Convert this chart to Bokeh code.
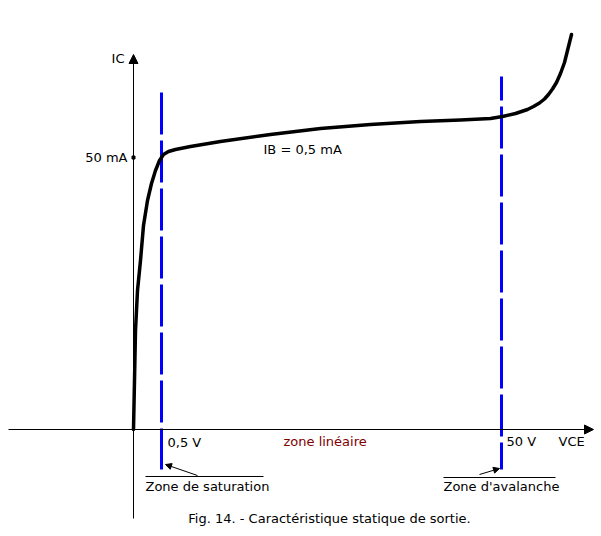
from bokeh.plotting import figure
from bokeh.models import Range1d, Arrow, NormalHead, Label
from bokeh.embed import file_html
from bokeh.resources import INLINE

# Characteristic curve IC(VCE) for IB = 0,5 mA (schematic units: x right of the IC axis, y above the VCE axis)
vce = [0, 1, 2, 4, 7, 10, 14, 18, 22, 26, 30, 35, 42, 57, 87, 137, 187, 237, 287, 327, 357, 369, 382,
       394, 400, 406, 411, 415, 419, 423, 427, 431, 434, 438]
ic = [0, 49, 99, 139, 169, 204, 229, 246, 259, 269, 275, 278, 280, 283, 288, 295, 301, 305, 308, 309.5, 311, 313, 316,
      320, 323, 326.5, 330.5, 335, 340.5, 347, 356, 367, 379, 395]

# Reference levels
ic_tick = 272          # 50 mA
vce_sat = 28           # 0,5 V
vce_aval = 368         # 50 V

FONT = "DejaVu Sans"
FS = "13px"

p = figure(width=601, height=536, output_backend="svg", toolbar_location=None,
           x_range=Range1d(-133, 468), y_range=Range1d(-107, 429),
           x_axis_type=None, y_axis_type=None, min_border=0,
           background_fill_color="white", border_fill_color="white")
p.grid.visible = False
p.outline_line_color = None

# Axes
p.add_layout(Arrow(end=NormalHead(size=9, fill_color="black", line_color="black", line_width=1),
                   x_start=-125, y_start=0, x_end=460, y_end=0, line_width=1, line_color="black"))
p.add_layout(Arrow(end=NormalHead(size=9, fill_color="black", line_color="black", line_width=1),
                   x_start=0, y_start=-89, x_end=0, y_end=375, line_width=1, line_color="black"))
p.scatter([0], [ic_tick], marker="square", size=3, color="black")

# Dashed limits
p.line([vce_sat, vce_sat], [337, -40], line_color="#0000ff", line_width=3, line_dash="42 6")
p.line([vce_aval, vce_aval], [353, -40], line_color="#0000ff", line_width=3, line_dash="42 6",
       line_dash_offset=18)

# Curve
p.line(vce, ic, line_color="black", line_width=3.5, line_join="round", line_cap="round")

def lab(x, y, t, align="left", color="black"):
    p.add_layout(Label(x=x, y=y, text=t, text_align=align, text_baseline="middle",
                       text_font=FONT, text_font_size=FS, text_color=color))

lab(-9, 371, "IC", "right")
lab(-6, ic_tick, "50 mA", "right")
lab(130, 280, "IB = 0,5 mA")
lab(vce_sat + 6, -13, "0,5 V")
lab(150, -12, "zone linéaire", color="#800000")
lab(vce_aval + 5, -12, "50 V")
lab(425, -12, "VCE")
lab(12, -57, "Zone de saturation")
lab(310, -57, "Zone d'avalanche")
lab(196, -89, "Fig. 14. - Caractéristique statique de sortie.", "center")

# Overlines
p.line([12, 130], [-47, -47], line_color="black", line_width=1)
p.line([310, 422], [-48, -48], line_color="black", line_width=1)

# Pointer arrows
p.add_layout(Arrow(end=NormalHead(size=6, fill_color="black", line_color="black", line_width=1),
                   x_start=64, y_start=-46, x_end=32, y_end=-35, line_width=1))
p.add_layout(Arrow(end=NormalHead(size=6, fill_color="black", line_color="black", line_width=1),
                   x_start=346, y_start=-45, x_end=366, y_end=-39, line_width=1))

open("out.html", "w").write(file_html(p, INLINE))
